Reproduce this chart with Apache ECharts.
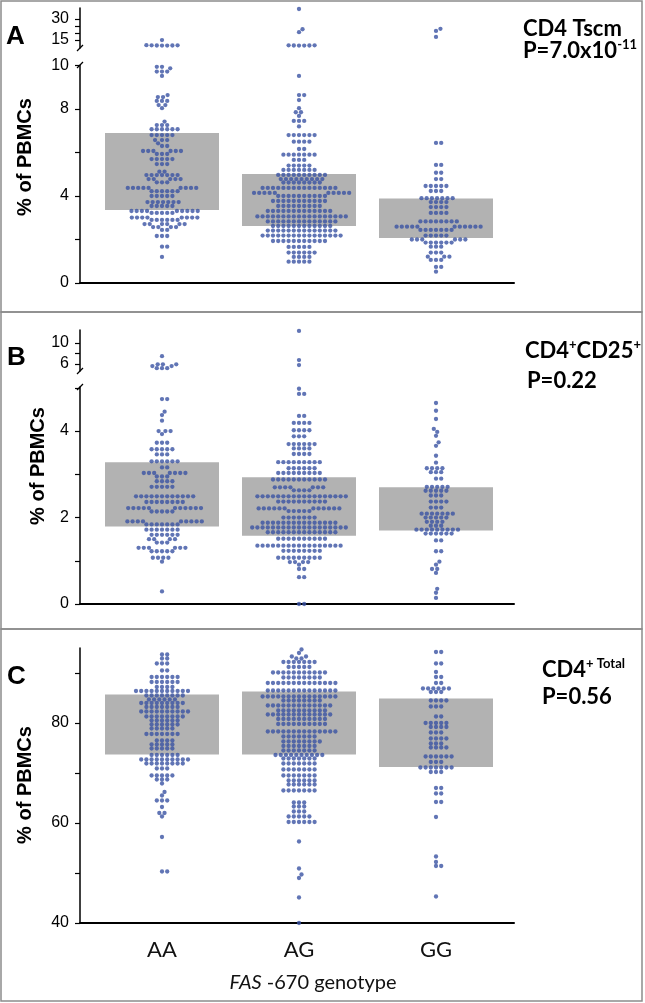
<!DOCTYPE html>
<html><head><meta charset="utf-8">
<script src="https://cdn.jsdelivr.net/npm/echarts@6/dist/echarts.min.js"></script>
<style>html,body{margin:0;padding:0;background:#fff}#c{width:645px;height:1003px}</style>
</head><body><div id="c"></div>
<script>
// ---------------- data ----------------
const categories = ['AA', 'AG', 'GG'];

// Panel A: CD4 Tscm (% of PBMCs)
const tscmAA = [15.0,
 11.0,11.1,11.2,11.1,11.3,11.0,11.2,
 9.94,9.94,9.87,9.72,9.72,9.72,9.52,
 8.64,8.55,8.55,8.37,8.37,8.37,8.18,8.18,8.04,
 7.42,7.26,7.26,7.26,7.07,7.07,7.07,7.07,7.07,7.07,
 6.8,6.8,6.8,6.8,6.8,6.57,6.57,6.57,6.42,6.3,6.3,
 6.07,6.07,6.07,6.07,6.07,6.07,5.93,5.93,5.93,
 5.7,5.7,5.7,5.7,5.7,5.47,5.47,5.47,5.12,5.12,
 4.96,4.96,4.96,4.96,4.96,4.96,4.96,4.78,4.78,4.78,4.78,4.78,4.63,4.63,4.63,
 4.37,4.37,4.37,4.37,4.37,4.37,4.37,4.37,4.37,4.22,4.22,4.22,4.22,4.22,4.22,
 4.0,4.0,4.0,4.0,4.0,3.72,3.72,3.72,3.72,3.72,3.72,3.72,3.54,3.54,3.54,3.54,3.54,
 3.31,3.31,3.31,3.31,3.31,3.31,3.31,3.31,3.31,3.22,3.22,3.22,3.22,3.22,
 3.01,3.01,3.01,3.01,3.01,3.01,3.01,3.01,2.9,2.9,2.9,2.9,2.9,2.9,
 2.71,2.71,2.71,2.71,2.71,2.71,2.57,2.57,2.57,2.57,2.44,2.44,2.16,2.16,2.16,1.67,1.67,1.2];
const tscmAG = [37.2,22.7,20.6,11.0,11.1,11.2,11.0,11.2,11.1,
 9.52,8.64,8.64,8.41,8.04,7.85,7.85,7.68,7.45,7.45,7.45,7.2,
 6.8,6.8,6.8,6.8,6.8,6.8,6.5,6.5,6.5,6.5,6.16,6.16,
 5.9,5.9,5.9,5.9,5.9,5.9,5.9,5.66,5.66,5.66,5.4,5.4,5.4,5.4,5.4,
 5.2,5.2,5.2,5.2,5.2,5.2,5.2,
 4.97,4.97,4.97,4.97,4.97,4.97,4.97,4.97,4.97,4.97,
 4.78,4.78,4.78,4.78,4.78,4.78,4.78,4.78,4.78,
 4.62,4.62,4.62,4.62,4.62,4.62,4.62,4.62,
 4.37,4.37,4.37,4.37,4.37,4.37,4.37,4.37,4.37,4.37,4.37,4.37,4.37,4.37,4.37,
 4.14,4.14,4.14,4.14,4.14,4.14,4.14,4.14,4.14,4.14,
 4.0,4.0,4.0,4.0,4.0,4.0,4.0,4.0,4.0,4.0,
 3.77,3.77,3.77,3.77,3.77,3.77,3.77,3.77,3.77,3.77,3.77,
 3.54,3.54,3.54,3.54,3.54,3.54,3.54,3.54,3.54,
 3.31,3.31,3.31,3.31,3.31,3.31,3.31,3.31,3.31,3.31,3.31,3.31,3.31,
 3.06,3.06,3.06,3.06,3.06,3.06,3.06,3.06,3.06,3.06,3.06,3.06,3.06,3.06,3.06,3.06,3.06,3.06,
 2.83,2.83,2.83,2.83,2.83,2.83,2.83,2.83,2.83,2.83,2.83,2.83,2.83,2.83,
 2.62,2.62,2.62,2.62,2.62,2.62,2.62,2.62,2.62,2.62,2.62,2.62,
 2.41,2.41,2.41,2.41,2.41,2.41,2.41,2.41,2.41,2.41,2.41,2.41,2.41,2.41,
 2.18,2.18,2.18,2.18,2.18,2.18,2.18,2.18,2.18,2.18,2.18,2.18,2.18,2.18,2.18,2.18,
 1.93,1.93,1.93,1.93,1.93,1.93,1.93,1.93,1.93,1.93,1.93,
 1.66,1.66,1.66,1.66,1.66,1.4,1.4,1.4,1.4,1.4,1.4,1.2,1.2,1.2,1.2,
 0.98,0.98,0.98,0.98,0.98];
const tscmGG = [23.0,21.5,17.2,6.44,6.44,5.43,5.43,5.07,5.07,4.78,4.78,
 4.46,4.46,4.46,4.46,4.46,4.23,4.23,4.23,3.9,3.9,3.9,3.9,3.9,3.9,3.9,
 3.72,3.72,3.72,3.72,3.49,3.49,3.49,3.49,3.22,3.22,3.22,3.22,
 2.83,2.83,2.83,2.83,2.83,2.83,2.83,2.83,
 2.59,2.59,2.59,2.59,2.59,2.59,2.59,2.59,2.59,2.59,2.59,
 2.44,2.44,2.44,2.44,2.44,2.44,2.44,2.18,2.18,2.18,2.18,2.18,
 2.0,2.0,2.0,2.0,2.0,2.0,1.86,1.86,1.86,1.86,1.86,1.86,
 1.67,1.67,1.67,1.4,1.4,1.4,1.21,1.21,1.21,1.06,1.06,1.06,0.74,0.74,0.52];
const tscmQ1 = [3.36, 2.62, 2.07];
const tscmQ3 = [6.9, 5.01, 3.88];

// Panel B: CD4+CD25+ (% of PBMCs)
const cd25AA = [7.5,5.95,5.95,5.95,5.6,5.6,5.2,5.2,5.2,
 4.74,4.74,4.45,4.37,4.24,4.0,4.0,4.0,3.93,3.73,3.73,3.73,
 3.58,3.58,3.58,3.58,3.58,3.46,3.46,3.46,3.3,3.3,3.3,3.3,3.3,3.3,3.16,3.16,
 3.03,3.03,3.03,3.03,3.03,3.03,3.03,2.95,2.95,2.95,2.84,2.84,2.84,2.84,
 2.71,2.71,2.71,2.71,2.71,
 2.49,2.49,2.49,2.49,2.49,2.49,2.49,2.49,2.49,2.49,2.49,2.49,
 2.36,2.36,2.36,2.36,2.36,2.36,2.36,2.36,
 2.22,2.22,2.22,2.22,2.22,2.22,2.22,2.22,2.22,2.22,2.22,
 2.14,2.14,2.14,2.14,2.14,1.91,1.91,1.91,1.91,1.91,1.91,1.91,1.91,1.91,
 1.84,1.84,1.84,1.84,1.84,1.84,1.84,1.72,1.72,1.72,1.72,1.72,1.72,1.72,
 1.6,1.6,1.6,1.6,1.6,1.6,1.5,1.5,1.5,1.5,1.42,1.42,1.42,
 1.3,1.3,1.3,1.3,1.3,1.3,1.22,1.22,1.22,1.22,1.22,1.07,1.07,1.07,1.07,0.98,0.29];
const cd25AG = [12.3,6.76,5.8,4.98,4.86,4.86,4.35,4.35,4.19,4.19,4.19,4.19,
 4.02,4.02,4.02,4.02,3.88,3.88,3.88,3.7,3.7,3.7,3.7,3.7,3.7,3.6,3.6,3.6,3.6,
 3.47,3.47,3.47,3.47,3.28,3.28,3.28,3.28,3.28,3.28,3.28,3.28,3.28,
 3.14,3.14,3.14,3.14,3.14,3.14,3.03,3.03,3.03,3.03,3.03,3.03,3.03,3.03,3.03,
 2.88,2.88,2.88,2.88,2.88,2.88,2.88,2.88,2.88,2.88,2.88,
 2.7,2.7,2.7,2.7,2.7,2.7,2.7,2.63,2.63,2.63,2.63,
 2.49,2.49,2.49,2.49,2.49,2.49,2.49,2.49,2.49,2.49,2.49,2.49,2.49,2.49,2.49,2.49,2.49,2.49,
 2.37,2.37,2.37,2.37,2.37,2.37,2.37,2.37,2.37,2.37,
 2.21,2.21,2.21,2.21,2.21,2.21,2.21,2.21,2.21,2.21,2.21,2.21,
 2.15,2.15,2.15,2.15,2.15,2.0,2.0,2.0,2.0,2.0,2.0,2.0,
 1.88,1.88,1.88,1.88,1.88,1.88,1.88,1.88,1.88,1.88,1.88,1.88,1.88,1.88,1.88,
 1.77,1.77,1.77,1.77,1.77,1.77,1.77,1.77,1.77,1.77,1.77,1.77,1.77,1.77,1.77,1.77,1.77,1.77,1.77,
 1.66,1.66,1.66,1.66,1.66,1.66,1.66,1.66,1.66,1.66,1.66,1.66,1.66,1.66,
 1.51,1.51,1.51,1.51,1.51,1.51,1.51,1.51,1.51,1.51,
 1.35,1.35,1.35,1.35,1.35,1.35,1.35,1.35,1.35,1.35,1.35,1.35,1.35,1.35,1.35,1.35,1.35,
 1.23,1.23,1.23,1.23,1.23,1.23,1.23,1.23,1.07,1.07,1.07,1.07,1.07,1.07,1.07,1.07,1.07,
 0.97,0.97,0.97,0.97,0.91,0.81,0.81,0.62,0.62,0.0,0.0];
const cd25GG = [4.65,4.47,4.28,4.05,3.98,3.89,3.74,3.66,3.43,3.27,3.14,3.14,3.14,3.14,
 3.05,3.05,3.05,2.9,2.9,2.71,2.71,2.71,2.71,2.71,2.62,2.62,2.62,2.62,2.62,
 2.51,2.51,2.51,2.37,2.37,2.37,2.37,2.23,2.23,2.23,
 2.09,2.09,2.09,2.09,2.09,2.09,2.09,2.0,2.0,2.0,2.0,2.0,1.9,1.9,1.9,1.9,1.81,1.81,1.81,
 1.72,1.72,1.72,1.72,1.72,1.72,1.72,1.72,1.72,1.63,1.63,1.63,1.63,1.63,1.63,
 1.47,1.47,1.22,1.22,0.98,0.91,0.81,0.81,0.72,0.35,0.26,0.14];
const cd25Q1 = [1.79, 1.58, 1.70];
const cd25Q3 = [3.28, 2.93, 2.70];

// Panel C: CD4+ Total (% of PBMCs)
const totalAA = [93.7,93.7,92.9,92.9,91.9,91.9,91.9,90.5,90.5,
 89.2,89.2,89.2,89.2,89.2,89.2,88.2,88.2,88.2,88.2,88.2,88.2,87.2,87.2,87.2,87.2,
 86.4,86.4,86.4,86.4,86.4,86.4,86.4,86.4,86.4,86.4,86.4,
 85.5,85.5,85.5,85.5,85.5,85.5,85.5,85.5,84.7,84.7,84.7,84.7,84.7,84.7,
 84.0,84.0,84.0,84.0,84.0,84.0,84.0,84.0,84.0,83.2,83.2,83.2,83.2,83.2,83.2,83.2,
 82.3,82.3,82.3,82.3,82.3,82.3,82.3,82.3,82.3,82.3,81.3,81.3,81.3,81.3,81.3,81.3,81.3,81.3,
 80.5,80.5,80.5,80.5,80.5,80.5,79.7,79.7,79.7,79.7,79.7,79.7,78.9,78.9,78.9,78.9,78.9,
 77.8,77.8,77.8,77.8,77.8,77.8,77.8,76.5,76.5,76.5,76.5,75.7,75.7,75.7,75.7,75.7,
 74.9,74.9,74.9,74.9,74.9,73.6,73.6,73.6,73.6,73.6,73.6,
 72.7,72.7,72.7,72.7,72.7,72.7,72.7,72.7,72.7,72.7,71.9,71.9,71.9,71.9,71.9,71.9,71.9,71.9,
 70.9,70.9,70.9,69.5,69.5,69.5,69.5,69.5,68.7,68.7,68.7,67.9,66.2,65.5,
 64.5,64.5,64.5,63.2,62.0,62.0,61.3,57.2,50.3,50.3];
const totalAG = [94.7,94.0,93.3,93.3,92.9,92.9,92.2,92.2,92.2,92.2,92.2,92.2,92.2,
 91.2,91.2,91.2,91.2,91.2,90.1,90.1,90.1,90.1,90.1,90.1,90.1,90.1,90.1,90.1,90.1,
 89.1,89.1,89.1,89.1,89.1,89.1,89.1,89.1,
 88.0,88.0,88.0,88.0,88.0,88.0,88.0,88.0,88.0,88.0,88.0,88.0,88.0,88.0,
 86.5,86.5,86.5,86.5,86.5,86.5,86.5,86.5,86.5,86.5,86.5,86.5,86.5,86.5,
 85.3,85.3,85.3,85.3,85.3,85.3,85.3,85.3,85.3,85.3,85.3,85.3,85.3,85.3,85.3,
 84.5,84.5,84.5,84.5,84.5,84.5,84.5,84.5,
 83.5,83.5,83.5,83.5,83.5,83.5,83.5,83.5,83.5,83.5,83.5,83.5,83.5,
 82.5,82.5,82.5,82.5,82.5,82.5,82.5,82.5,82.5,82.5,
 81.7,81.7,81.7,81.7,81.7,81.7,81.7,81.7,81.7,81.7,81.7,81.7,81.7,
 80.8,80.8,80.8,80.8,80.8,80.8,80.8,80.8,80.8,80.8,
 79.8,79.8,79.8,79.8,79.8,79.8,79.8,79.8,79.8,79.8,
 78.3,78.3,78.3,78.3,78.3,78.3,78.3,78.3,78.3,78.3,78.3,78.3,78.3,78.3,
 77.3,77.3,77.3,77.3,77.3,77.3,77.3,76.3,76.3,76.3,76.3,76.3,76.3,76.3,76.3,
 75.4,75.4,75.4,75.4,75.4,75.4,75.4,74.5,74.5,74.5,74.5,74.5,74.5,74.5,
 73.6,73.6,73.6,73.6,73.6,73.6,73.6,73.6,73.6,73.6,72.9,72.9,72.9,72.9,72.9,72.9,72.9,
 71.9,71.9,71.9,71.9,71.9,71.9,71.9,70.7,70.7,70.7,70.7,70.7,70.7,70.7,
 69.5,69.5,69.5,69.5,69.5,69.5,69.5,68.5,68.5,68.5,68.5,68.5,68.5,
 67.7,67.7,67.7,67.7,67.7,67.7,66.5,66.5,66.5,66.5,66.5,66.5,66.5,
 64.1,64.1,64.1,63.3,63.3,63.3,62.3,62.3,62.3,61.3,61.3,61.3,61.3,61.3,
 60.2,60.2,60.2,60.2,60.2,60.2,56.3,50.9,49.7,49.0,45.1,40.0];
const totalGG = [94.2,94.2,91.9,91.9,90.2,89.2,89.2,88.0,88.0,
 86.9,86.9,86.9,86.9,86.9,86.9,86.2,86.2,86.2,84.5,84.5,84.5,84.5,83.3,83.3,83.3,
 81.3,81.3,80.0,80.0,80.0,80.0,80.0,79.2,79.2,79.2,79.2,78.1,78.1,78.1,
 76.9,76.9,76.9,76.9,75.9,75.9,75.9,75.1,75.1,75.1,75.1,
 73.3,73.3,73.3,73.3,73.3,73.3,72.2,72.2,72.2,71.1,71.1,71.1,71.1,71.1,71.1,71.1,
 70.2,70.2,70.2,67.0,67.0,65.9,65.9,64.2,64.2,61.2,53.3,52.2,51.4,51.4,45.3];
const totalQ1 = [73.7, 73.7, 71.2];
const totalQ3 = [85.7, 86.3, 84.9];

// axis ticks / labels
const tscmHighTicks = [15, 20, 25, 30], tscmHighLabels = [15, 30];
const tscmLowTicks = [0, 2, 4, 6, 8, 10], tscmLowLabels = [0, 4, 8, 10];
const cd25HighTicks = [6, 8, 10], cd25HighLabels = [6, 10];
const cd25LowTicks = [0, 1, 2, 3, 4, 5], cd25LowLabels = [0, 2, 4];
const totalTicks = [40, 50, 60, 70, 80, 90], totalLabels = [40, 60, 80];

// ---------------- layout ----------------
const X_MIN = 0.4015, X_MAX = 3.5693;
const BAR_HALF = 0.416;
const DOT = '#3a53a3', BARC = '#b2b2b2';
const gridDefs = [
  {top: 8, height: 40, min: 9.3, max: 37.9, ticks: tscmHighTicks, labels: tscmHighLabels, base: false},
  {top: 65.5, height: 217.5, min: 0, max: 10, ticks: tscmLowTicks, labels: tscmLowLabels, base: true},
  {top: 330, height: 41, min: 4.67, max: 12.48, ticks: cd25HighTicks, labels: cd25HighLabels, base: false},
  {top: 387, height: 217, min: 0, max: 5.02, ticks: cd25LowTicks, labels: cd25LowLabels, base: true},
  {top: 648, height: 275, min: 40, max: 95, ticks: totalTicks, labels: totalLabels, base: true, cats: true}
];
const panels = [
  {data: [tscmAA, tscmAG, tscmGG], q1: tscmQ1, q3: tscmQ3, split: 10, low: 1, high: 0},
  {data: [cd25AA, cd25AG, cd25GG], q1: cd25Q1, q3: cd25Q3, split: 5.02, low: 3, high: 2},
  {data: [totalAA, totalAG, totalGG], q1: totalQ1, q3: totalQ3, split: Infinity, low: 4, high: null}
];

const chart = echarts.init(document.getElementById('c'), null, {renderer: 'canvas'});
const TICKFONT = {fontSize: 16, color: '#000', fontFamily: 'Liberation Sans, Arial, sans-serif'};

const grid = gridDefs.map(g => ({left: 80, width: 434, top: g.top, height: g.height}));
const xAxis = gridDefs.map((g, i) => ({
  type: 'value', gridIndex: i, min: X_MIN, max: X_MAX, show: g.base,
  splitLine: {show: false},
  axisLine: {show: g.base, onZero: false, lineStyle: {color: '#000', width: 2}},
  axisTick: {show: false},
  axisLabel: g.cats ? {show: true, customValues: [1, 2, 3], formatter: v => categories[Math.round(v) - 1],
    fontSize: 22, fontFamily: 'Lato, sans-serif', color: '#111', margin: 16} : {show: false}
}));
const yAxis = gridDefs.map((g, i) => ({
  type: 'value', gridIndex: i, min: g.min, max: g.max,
  splitLine: {show: false},
  axisLine: {show: true, onZero: false, lineStyle: {color: '#000', width: 1.5}},
  axisTick: {show: true, customValues: g.ticks, length: 5, lineStyle: {color: '#000', width: 1.2}},
  axisLabel: Object.assign({customValues: g.labels, margin: 11}, TICKFONT)
}));

const series = [];
panels.forEach((p, pi) => {
  series.push({
    type: 'custom', xAxisIndex: p.low, yAxisIndex: p.low, z: 1, silent: true,
    data: categories.map((c, k) => [k + 1, p.q1[k], p.q3[k]]),
    renderItem: (params, api) => {
      const x = api.value(0);
      const a = api.coord([x - BAR_HALF, api.value(2)]);
      const b = api.coord([x + BAR_HALF, api.value(1)]);
      return {type: 'rect', shape: {x: a[0], y: a[1], width: b[0] - a[0], height: b[1] - a[1]}, style: {fill: BARC}};
    }
  });
  p.data.forEach((vals, k) => {
    [['low', v => v <= p.split], ['high', v => v > p.split]].forEach(([part, f]) => {
      const gi = p[part];
      if (gi === null) return;
      const sub = vals.filter(f);
      series.push({
        id: 's' + pi + '_' + k + '_' + part, type: 'scatter', xAxisIndex: gi, yAxisIndex: gi, z: 2, silent: true,
        symbol: 'circle', symbolSize: 4.3, itemStyle: {color: DOT}, gi: gi, center: k + 1, vals: sub,
        data: sub.map(v => [k + 1, v])
      });
    });
  });
});

// ---------------- annotations ----------------
const bold = (t, x, y, size) => ({type: 'text', x: x, y: y,
  style: {text: t, fontSize: size, fontWeight: 'bold', fontFamily: 'Liberation Sans, Arial, sans-serif', fill: '#000',
    align: 'left', verticalAlign: 'middle'}});
const titleRich = {
  b: {fontSize: 22, fontWeight: 'bold', fontFamily: 'Lato, sans-serif', fill: '#000', lineHeight: 26},
  s: {fontSize: 13, fontWeight: 'bold', fontFamily: 'Lato, sans-serif', fill: '#000', lineHeight: 26, verticalAlign: 'top'}
};
const title = (t, x, y) => ({type: 'text', x: x, y: y, style: {text: t, rich: titleRich, align: 'left', verticalAlign: 'middle'}});
const yName = (x, y) => ({type: 'text', x: x, y: y, rotation: Math.PI / 2,
  style: {text: '% of PBMCs', fontSize: 20, fontWeight: 'bold', fontFamily: 'Liberation Sans, Arial, sans-serif', fill: '#000', align: 'center', verticalAlign: 'middle'}});
const brk = (x1, y1, x2, y2) => ({type: 'line', shape: {x1, y1, x2, y2}, style: {stroke: '#000', lineWidth: 1.3}});
const box = (y, h) => ({type: 'rect', shape: {x: 1, y: y, width: 641, height: h}, style: {fill: 'none', stroke: '#8c8c8c', lineWidth: 1.5}});

const graphic = [
  box(1, 311), box(312, 317), box(629, 372),
  bold('A', 6, 37, 26), bold('B', 7, 358, 26), bold('C', 7, 677, 26),
  yName(25, 157), yName(38, 466), yName(25, 785),
  title('{b|CD4 Tscm}', 523, 29), title('{b|P=7.0x10}{s|-11}', 523, 51),
  title('{b|CD4}{s|+}{b|CD25}{s|+}', 525, 351), title('{b|P=0.22}', 527, 381),
  title('{b|CD4}{s|+ Total}', 542, 670), title('{b|P=0.56}', 542, 697),
  brk(77, 51, 83, 45), brk(77, 68, 83, 62),
  brk(77, 374, 83, 368), brk(77, 390, 83, 384),
  {type: 'text', x: 313, y: 983, style: {text: '{i|FAS} -670 genotype', align: 'center', verticalAlign: 'middle',
    fontSize: 20, fontFamily: 'Lato, sans-serif', fill: '#111',
    rich: {i: {fontStyle: 'italic', fontSize: 20, fontFamily: 'Lato, sans-serif', fill: '#111'}}}}
];

chart.setOption({animation: false, grid, xAxis, yAxis, series, graphic});

// ---------------- beeswarm offsets through the chart's own scales ----------------
const DX = 5.2, DY = 4.0;
function swarm(values, gi, center) {
  const sorted = values.slice().sort((a, b) => a - b);
  const c0 = chart.convertToPixel({gridIndex: gi}, [center, 0]);
  const c1 = chart.convertToPixel({gridIndex: gi}, [center + 1, 0]);
  const ppu = c1[0] - c0[0];
  const placed = [];
  return sorted.map(v => {
    const py = chart.convertToPixel({gridIndex: gi}, [center, v])[1];
    const near = placed.filter(p => Math.abs(p.y - py) < DY);
    const cands = [0];
    near.forEach(p => {
      const t = 1 - Math.pow((p.y - py) / DY, 2);
      const dx = DX * Math.sqrt(Math.max(t, 0));
      cands.push(p.x + dx, p.x - dx);
    });
    cands.sort((a, b) => Math.abs(a) - Math.abs(b));
    let x = 0;
    for (const c of cands) {
      if (near.every(p => Math.pow((p.x - c) / DX, 2) + Math.pow((p.y - py) / DY, 2) >= 0.999)) { x = c; break; }
    }
    placed.push({x: x, y: py});
    return [center + x / ppu, v];
  });
}
const upd = series.filter(s => s.type === 'scatter').map(s => ({id: s.id, data: swarm(s.vals, s.gi, s.center)}));
chart.setOption({series: upd});
</script>
</body></html>
